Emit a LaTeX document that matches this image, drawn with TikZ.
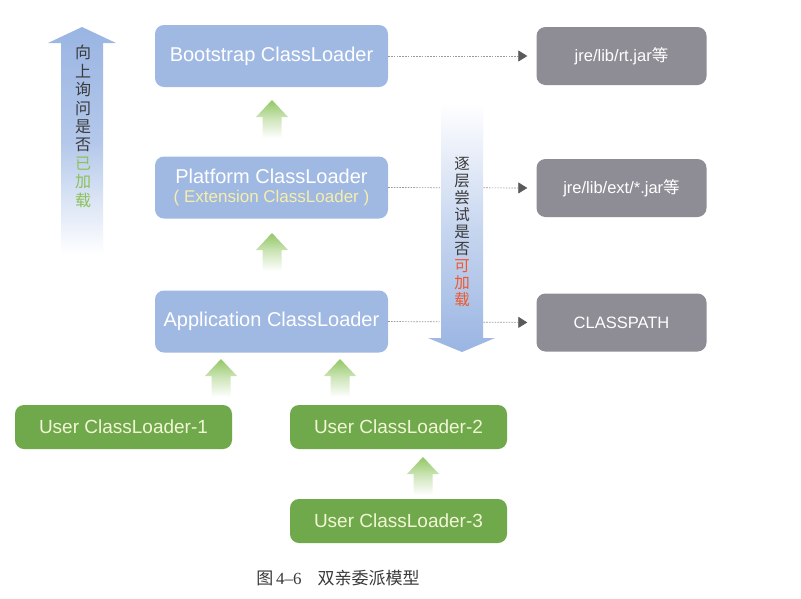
\documentclass[tikz,border=0pt]{standalone}
\usepackage{fontspec}
\setmainfont{Liberation Sans}
\newfontfamily\cjk{Noto Sans CJK SC}
\newfontfamily\capserif{Liberation Serif}
\usetikzlibrary{arrows.meta,calc}
\definecolor{boxblue}{HTML}{A0B9E3}
\definecolor{boxgray}{HTML}{8E8D95}
\definecolor{boxgreen}{HTML}{6FA94B}
\definecolor{paleyellow}{HTML}{F6EEAA}
\definecolor{greentext}{HTML}{F2F6D6}
\definecolor{arrowblue}{HTML}{9AB5E3}
\definecolor{arrowgreen}{HTML}{93C765}
\definecolor{txtdark}{HTML}{3A3A3A}
\definecolor{txtgreen}{HTML}{8CC157}
\definecolor{txtorange}{HTML}{F0582A}
\definecolor{tipgray}{HTML}{5A5A5A}
\begin{document}
\begin{tikzpicture}[x=1pt,y=-1pt,
  bluebox/.style={fill=boxblue,rounded corners=9pt,minimum width=233pt,minimum height=62pt,text=white,font=\fontsize{20}{22}\selectfont,align=center,inner sep=0pt},
  graybox/.style={fill=boxgray,rounded corners=9pt,minimum width=170pt,minimum height=58pt,text=white,font=\fontsize{16.5}{20}\selectfont,inner sep=0pt},
  greenbox/.style={fill=boxgreen,rounded corners=9pt,minimum width=217pt,minimum height=44pt,text=greentext,font=\fontsize{19}{22}\selectfont,inner sep=0pt},
  dotline/.style={draw=gray!80,line width=0.7pt,dash pattern=on 1.6pt off 1.2pt,-{Triangle[length=9pt,width=11pt,color=tipgray]},shorten >=9pt},
  vtext/.style={align=center,inner sep=0pt,text=txtdark}
]
\useasboundingbox (0,0) rectangle (801,598);
\fill[white] (0,0) rectangle (801,598);

% main boxes
\node[bluebox] (boot) at (271.5,56) {Bootstrap ClassLoader};
\node[bluebox] (plat) at (271.5,187.5) {Platform ClassLoader\\[-3pt]{\color{paleyellow}\fontsize{17}{19}\selectfont ( Extension ClassLoader )}};
\node[bluebox] (app) at (271.5,321.5) {Application ClassLoader};

\node[graybox] (rt) at (621.5,56) {jre/lib/rt.jar{\cjk 等}};
\node[graybox] (ext) at (621.5,188) {jre/lib/ext/*.jar{\cjk 等}};
\node[graybox] (cp) at (621.5,322.5) {CLASSPATH};

\node[greenbox] (u1) at (123.5,427) {User ClassLoader-1};
\node[greenbox] (u2) at (398.5,427) {User ClassLoader-2};
\node[greenbox] (u3) at (398.5,521) {User ClassLoader-3};

% dotted arrows
\draw[dotline] (boot.east) -- (rt.west);
\draw[dotline] (plat.east) -- (ext.west);
\draw[dotline] (app.east) -- (cp.west);

% big left arrow (upwards)
\shade[top color=arrowblue,bottom color=white,middle color=arrowblue!75!white]
  (82,27) -- (116,43) -- (103,43) -- (103,255) -- (61,255) -- (61,43) -- (48,43) -- cycle;
\node[vtext,font=\cjk\fontsize{16}{18.4}\selectfont] (uptext) at (83,126.5)
  {向\\上\\询\\问\\是\\否\\{\color{txtgreen}已}\\{\color{txtgreen}加}\\{\color{txtgreen}载}};

% big right arrow (downwards)
\shade[top color=white,bottom color=arrowblue,middle color=arrowblue!55!white]
  (441,103) -- (483,103) -- (483,338) -- (495,338) -- (462,352) -- (428,338) -- (441,338) -- cycle;
\node[vtext,font=\cjk\fontsize{15.5}{17}\selectfont] (downtext) at (462,231.5)
  {逐\\层\\尝\\试\\是\\否\\{\color{txtorange}可}\\{\color{txtorange}加}\\{\color{txtorange}载}};

% small green arrows
\newcommand{\grarrow}[2]{%
  \shade[top color=arrowgreen,bottom color=white,middle color=arrowgreen!45!white]
   (#1,#2) -- ($(#1,#2)+(16,17)$) -- ($(#1,#2)+(9.5,17)$) -- ($(#1,#2)+(9.5,38)$)
   -- ($(#1,#2)+(-9.5,38)$) -- ($(#1,#2)+(-9.5,17)$) -- ($(#1,#2)+(-16,17)$) -- cycle;}
\grarrow{272}{100}
\grarrow{272}{233}
\grarrow{221}{359}
\grarrow{340}{359}
\grarrow{423}{457}

% caption
\node[inner sep=0pt,text=txtdark,font=\fontsize{17}{20}\selectfont] (cap) at (338,578)
  {{\cjk 图}\,{\capserif 4–6}\hspace{16pt}{\cjk 双亲委派模型}};
\end{tikzpicture}
\end{document}
